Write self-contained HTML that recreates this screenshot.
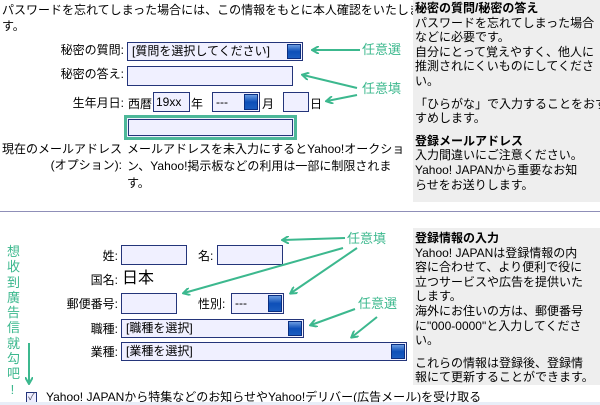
<!DOCTYPE html>
<html><head><meta charset="utf-8"><style>
body{margin:0;width:600px;height:405px;background:#fff;position:relative;overflow:hidden;font-family:"Liberation Sans","Noto Sans CJK JP",sans-serif;font-size:12px;color:#000}
.a{position:absolute;white-space:nowrap;line-height:13px}
.r{text-align:right}
.in{position:absolute;background:#f0f0ff;border:1px solid #24357a;box-sizing:border-box}
.btn{position:absolute;right:1px;top:1px;bottom:1px;width:14px;background:linear-gradient(#6b9be0,#0d4fb8 50%,#1a5cc0);border:1px solid #0a2e80;box-sizing:border-box}
.g{color:#3cb88e;font-size:13px}
.panel{position:absolute;left:413px;width:187px;background:#eeeeee;padding:1px 0 0 2px;box-sizing:border-box;line-height:14.6px;overflow:hidden;white-space:nowrap}
.panel b{font-weight:bold}
.sp{height:8px}
</style></head><body>
<div class="a" style="left:2px;top:2px;line-height:16px">パスワードを忘れてしまった場合には、この情報をもとに本人確認をいたしま<br>す。</div>

<div class="a r" style="left:0;width:124px;top:44px">秘密の質問:</div>
<div class="in" style="left:127px;top:42px;width:176px;height:19px"><span class="a" style="left:4px;top:2px">[質問を選択してください]</span><div class="btn"></div></div>
<div class="a r" style="left:0;width:124px;top:68px">秘密の答え:</div>
<div class="in" style="left:127px;top:66px;width:166px;height:20px"></div>
<div class="a r" style="left:0;width:124px;top:97px">生年月日:</div>
<div class="a" style="left:128px;top:98px">西暦</div>
<div class="in" style="left:153px;top:92px;width:37px;height:20px"><span class="a" style="left:2px;top:3px">19xx</span></div>
<div class="a" style="left:191px;top:98px">年</div>
<div class="in" style="left:212px;top:92px;width:48px;height:20px"><span class="a" style="left:3px;top:3px">---</span><div class="btn"></div></div>
<div class="a" style="left:262px;top:98px">月</div>
<div class="in" style="left:283px;top:92px;width:26px;height:20px"></div>
<div class="a" style="left:310px;top:98px">日</div>
<div style="position:absolute;left:124px;top:115px;width:173px;height:25px;border:3px solid #4db899;box-sizing:border-box;background:#f0f0ff"><div style="position:absolute;inset:1px;border:1px solid #24357a"></div></div>
<div class="a r" style="left:0;width:122px;top:141px;line-height:16px">現在のメールアドレス<br>(オプション):</div>
<div class="a" style="left:127px;top:141px;line-height:17px">メールアドレスを未入力にするとYahoo!オークショ<br>ン、Yahoo!掲示板などの利用は一部に制限されま<br>す。</div>

<div class="a g" style="left:362px;top:43px">任意選</div>
<div class="a g" style="left:362px;top:82px">任意填</div>

<div class="panel" style="top:0;height:202px"><b>秘密の質問/秘密の答え</b><br>パスワードを忘れてしまった場合<br>などに必要です。<br>自分にとって覚えやすく、他人に<br>推測されにくいものにしてくださ<br>い。<div class="sp"></div>「ひらがな」で入力することをおす<br>すめします。<div class="sp"></div><b>登録メールアドレス</b><br>入力間違いにご注意ください。<br>Yahoo! JAPANから重要なお知<br>らせをお送りします。</div>

<div style="position:absolute;left:0;top:211px;width:600px;height:1px;background:#8f8fb8"></div>

<div class="panel" style="top:228px;height:157px;padding-top:3px"><b>登録情報の入力</b><br>Yahoo! JAPANは登録情報の内<br>容に合わせて、より便利で役に<br>立つサービスや広告を提供いた<br>します。<br>海外にお住いの方は、郵便番号<br>に"000-0000"と入力してくださ<br>い。<div class="sp"></div>これらの情報は登録後、登録情<br>報にて更新することができます。</div>

<div class="a r" style="left:0;width:118px;top:250px">姓:</div>
<div class="in" style="left:121px;top:245px;width:66px;height:20px"></div>
<div class="a" style="left:198px;top:250px">名:</div>
<div class="in" style="left:217px;top:245px;width:66px;height:20px"></div>
<div class="a r" style="left:0;width:118px;top:274px">国名:</div>
<div class="a" style="left:122px;top:270px;font-size:16px;line-height:18px">日本</div>
<div class="a r" style="left:0;width:118px;top:298px">郵便番号:</div>
<div class="in" style="left:121px;top:293px;width:56px;height:21px"></div>
<div class="a" style="left:198px;top:298px">性別:</div>
<div class="in" style="left:231px;top:293px;width:53px;height:21px"><span class="a" style="left:3px;top:3px">---</span><div class="btn"></div></div>
<div class="a r" style="left:0;width:118px;top:323px">職種:</div>
<div class="in" style="left:121px;top:319px;width:183px;height:19px"><span class="a" style="left:4px;top:2px">[職種を選択]</span><div class="btn"></div></div>
<div class="a r" style="left:0;width:118px;top:346px">業種:</div>
<div class="in" style="left:121px;top:342px;width:286px;height:19px"><span class="a" style="left:4px;top:2px">[業種を選択]</span><div class="btn"></div></div>

<div class="a g" style="left:347px;top:232px">任意填</div>
<div class="a g" style="left:358px;top:297px">任意選</div>
<div class="a g" style="left:7px;top:244px;line-height:15.3px">想<br>收<br>到<br>廣<br>告<br>信<br>就<br>勾<br>吧<br>&nbsp;!</div>

<div style="position:absolute;left:26px;top:392px;width:11px;height:11px;border:1px solid #24357a;background:#eef;box-sizing:border-box;font-size:10px;line-height:9px;color:#556;text-align:center">✓</div>
<div class="a" style="left:46px;top:391px">Yahoo! JAPANから特集などのお知らせやYahoo!デリバー(広告メール)を受け取る</div>
<div style="position:absolute;left:0;top:402px;width:600px;height:3px;background:#e8eef8"></div>

<svg style="position:absolute;left:0;top:0" width="600" height="405">
<defs><marker id="m" markerWidth="8" markerHeight="8" refX="6" refY="4" orient="auto" markerUnits="userSpaceOnUse"><path d="M0,0 L7,4 L0,8" fill="none" stroke="#3cb88e" stroke-width="2"/></marker></defs>
<g stroke="#3cb88e" stroke-width="2" fill="none" marker-end="url(#m)">
<line x1="360" y1="50" x2="313" y2="50"/>
<line x1="357" y1="88" x2="303" y2="75"/>
<line x1="357" y1="95" x2="327" y2="101"/>
<line x1="345" y1="238" x2="283" y2="240"/>
<line x1="343" y1="248" x2="184" y2="293"/>
<line x1="357" y1="248" x2="291" y2="293"/>
<line x1="355" y1="309" x2="311" y2="325"/>
<line x1="377" y1="317" x2="352" y2="337"/>
<line x1="29" y1="343" x2="29" y2="383"/>
</g></svg>
</body></html>
